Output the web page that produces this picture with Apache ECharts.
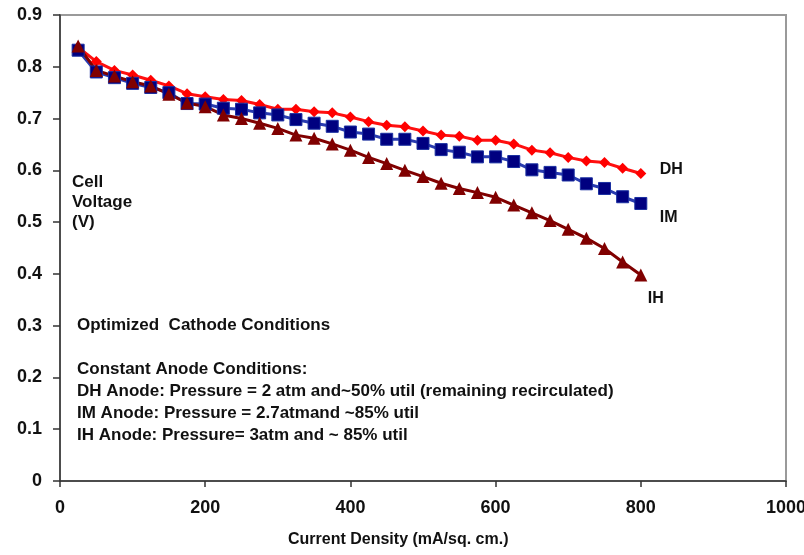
<!DOCTYPE html>
<html>
<head>
<meta charset="utf-8">
<script src="https://cdn.jsdelivr.net/npm/echarts@6/dist/echarts.min.js"></script>
<style>
html,body{margin:0;padding:0;background:#fff;}
#chart{width:804px;height:555px;}
</style>
</head>
<body>
<div id="chart"></div>
<script>
const currentDensity = [25,50,75,100,125,150,175,200,225,250,275,300,325,350,375,400,425,450,475,500,525,550,575,600,625,650,675,700,725,750,775,800];
const dhVoltage = [0.838,0.810,0.793,0.784,0.774,0.763,0.748,0.742,0.737,0.735,0.727,0.718,0.718,0.713,0.711,0.703,0.694,0.687,0.684,0.676,0.668,0.666,0.658,0.658,0.651,0.639,0.634,0.625,0.618,0.615,0.604,0.594];
const imVoltage = [0.832,0.790,0.779,0.768,0.760,0.750,0.729,0.728,0.720,0.718,0.711,0.707,0.698,0.691,0.685,0.674,0.670,0.660,0.660,0.652,0.640,0.635,0.626,0.626,0.617,0.601,0.596,0.591,0.574,0.565,0.549,0.536];
const ihVoltage = [0.840,0.793,0.782,0.771,0.763,0.747,0.730,0.723,0.707,0.700,0.691,0.681,0.668,0.662,0.651,0.639,0.625,0.613,0.600,0.588,0.575,0.565,0.557,0.548,0.533,0.518,0.503,0.486,0.469,0.449,0.423,0.398];
const seriesNames = ['DH','IM','IH'];
const xTicks = [0,200,400,600,800,1000];
const yTicks = [0,0.1,0.2,0.3,0.4,0.5,0.6,0.7,0.8,0.9];
const xAxisTitle = 'Current Density (mA/sq. cm.)';
const yAxisTitle = 'Cell\nVoltage\n(V)';
const notes = [
  'Optimized  Cathode Conditions',
  '',
  'Constant Anode Conditions:',
  'DH Anode: Pressure = 2 atm and~50% util (remaining recirculated)',
  'IM Anode: Pressure = 2.7atmand ~85% util',
  'IH Anode: Pressure= 3atm and ~ 85% util'
];

const FONT = '"Liberation Sans", Arial, sans-serif';
const pair = (ys) => currentDensity.map((x, i) => [x, ys[i]]);

const chart = echarts.init(document.getElementById('chart'), null, {renderer: 'canvas'});
chart.setOption({
  animation: false,
  backgroundColor: '#fff',
  grid: {left: 60, top: 15, width: 726, height: 466, outerBoundsMode: 'none', containLabel: false,
    show: true, borderColor: '#9a9a9a', borderWidth: 2, backgroundColor: 'transparent'},
  xAxis: {
    type: 'value', min: 0, max: 1000, interval: 200,
    axisLine: {show: true, lineStyle: {color: '#333', width: 1.5}},
    axisTick: {show: true, inside: false, length: 6, lineStyle: {color: '#333', width: 1.5}},
    splitLine: {show: false},
    axisLabel: {margin: 18, fontSize: 18, fontWeight: 'bold', color: '#111', fontFamily: FONT,
      formatter: (v) => xTicks.includes(v) ? String(v) : ''}
  },
  yAxis: {
    type: 'value', min: 0, max: 0.9, interval: 0.1,
    axisLine: {show: true, lineStyle: {color: '#333', width: 1.5}},
    axisTick: {show: true, inside: false, length: 7, lineStyle: {color: '#333', width: 1.5}},
    splitLine: {show: false},
    axisLabel: {margin: 18, fontSize: 18, fontWeight: 'bold', color: '#111', fontFamily: FONT,
      formatter: (v) => {
        const t = yTicks.find(k => Math.abs(k - v) < 1e-9);
        return t === 0 ? '0' : t.toFixed(1);
      }}
  },
  series: [
    {
      name: seriesNames[0], type: 'line', data: pair(dhVoltage),
      symbol: 'diamond', symbolSize: 11,
      itemStyle: {color: '#ff0000'}, lineStyle: {color: '#ff1010', width: 3},
      endLabel: {show: true, formatter: seriesNames[0], offset: [11, -4], fontSize: 16, fontWeight: 'bold', color: '#111', fontFamily: FONT}
    },
    {
      name: seriesNames[1], type: 'line', data: pair(imVoltage),
      symbol: 'rect', symbolSize: 12,
      itemStyle: {color: '#000080', borderColor: '#1a2fa0', borderWidth: 1}, lineStyle: {color: '#2a3cb0', width: 3},
      endLabel: {show: true, formatter: seriesNames[1], offset: [11, 14], fontSize: 16, fontWeight: 'bold', color: '#111', fontFamily: FONT}
    },
    {
      name: seriesNames[2], type: 'line', data: pair(ihVoltage),
      symbol: 'triangle', symbolSize: 13,
      itemStyle: {color: '#800000'}, lineStyle: {color: '#800000', width: 3},
      endLabel: {show: true, formatter: seriesNames[2], offset: [-1, 24], fontSize: 16, fontWeight: 'bold', color: '#111', fontFamily: FONT}
    }
  ],
  graphic: [
    {type: 'text', left: 72, top: 172, style: {text: yAxisTitle, font: 'bold 17px ' + FONT, fill: '#111', lineHeight: 20}},
    {type: 'text', left: 77, top: 314, style: {text: notes.join('\n'), font: 'bold 17px ' + FONT, fill: '#111', lineHeight: 22}},
    {type: 'text', left: 288, top: 532, style: {text: xAxisTitle, font: 'bold 16px ' + FONT, fill: '#111'}}
  ]
});
</script>
</body>
</html>
